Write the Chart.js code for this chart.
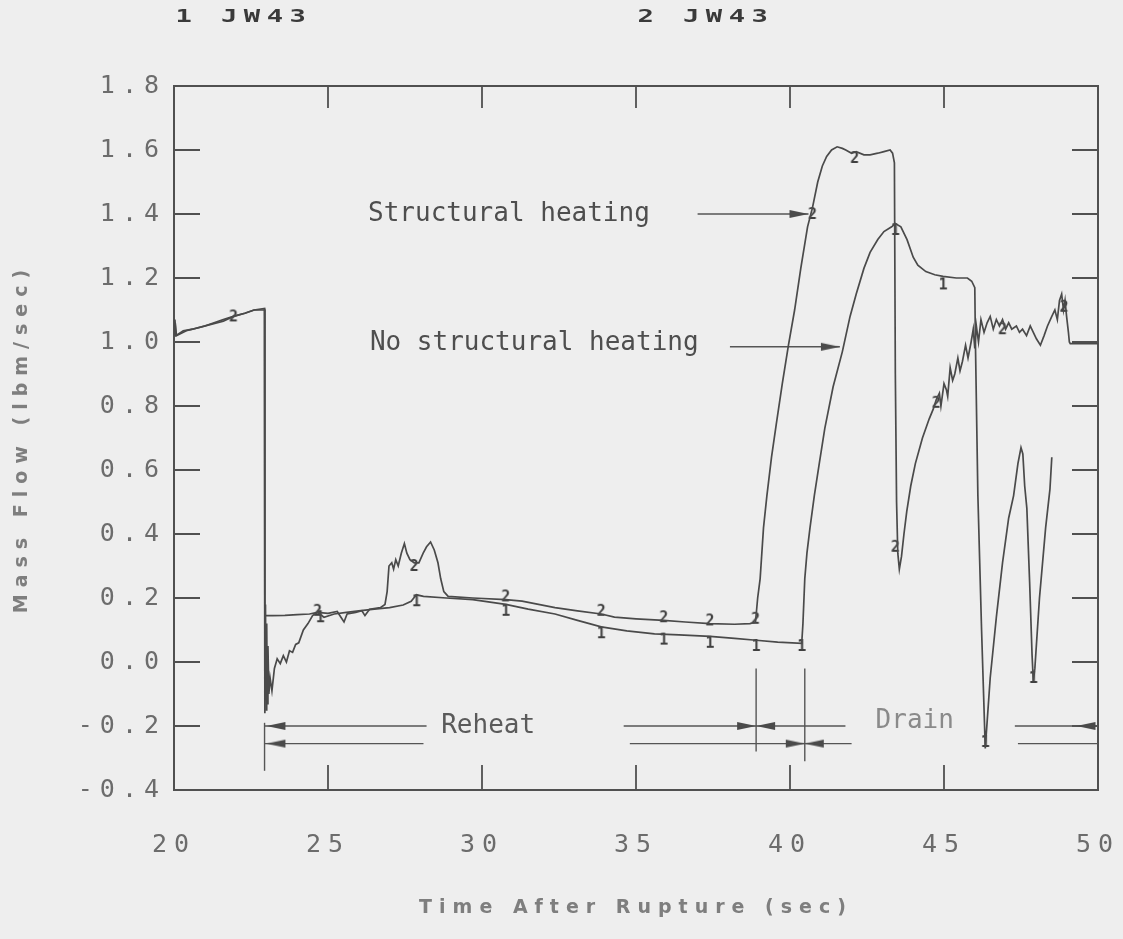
<!DOCTYPE html>
<html>
<head>
<meta charset="utf-8">
<title>Mass Flow - JW43</title>
<script src="https://cdn.jsdelivr.net/npm/chart.js@4.4.1/dist/chart.umd.min.js"></script>
<style>
  html, body { margin: 0; padding: 0; background: #eeeeee; }
  canvas { display: block; }
</style>
</head>
<body>
<canvas id="chart" width="1123" height="939"></canvas>
<script>
// ---- axes ----
const xTickLabels = ['20', '25', '30', '35', '40', '45', '50'];
const yTickLabels = ['-0.4', '-0.2', '0.0', '0.2', '0.4', '0.6', '0.8', '1.0', '1.2', '1.4', '1.6', '1.8'];

// ---- JW43 run 1 : no structural heating ----
const time1 = [
  20.00, 20.03, 20.06, 20.30, 20.60, 21.00, 21.30, 21.60, 21.93, 22.30, 22.60, 22.94,
  22.95, 22.97, 22.99, 23.01, 23.03, 23.05, 23.08, 23.12, 23.18, 23.26, 23.35, 23.45,
  23.55, 23.65, 23.75, 23.85, 23.95, 24.05, 24.20, 24.35, 24.50, 24.66, 24.87, 25.20,
  25.60, 26.00, 26.50, 27.00, 27.44, 27.70, 27.87, 28.10, 28.84, 29.70, 30.77, 31.50,
  32.37, 33.10, 33.87, 34.70, 35.60, 36.40, 37.40, 38.20, 38.90, 39.60, 40.38, 40.42,
  40.48, 40.55, 40.65, 40.79, 40.95, 41.13, 41.40, 41.70, 41.95, 42.15, 42.40, 42.60,
  42.85, 43.05, 43.30, 43.42, 43.60, 43.80, 44.00, 44.15, 44.41, 44.70, 44.97, 45.40,
  45.76, 45.90, 46.00, 46.02, 46.10, 46.22, 46.34, 46.50, 46.70, 46.90, 47.10, 47.26,
  47.40, 47.50, 47.56, 47.62, 47.69, 47.78, 47.86, 47.90, 47.95, 48.10, 48.30, 48.44,
  48.50
];
const flow1 = [
  1.03, 1.07, 1.02, 1.035, 1.04, 1.05, 1.06, 1.07, 1.08, 1.09, 1.10, 1.105,
  -0.12, 0.18, -0.15, 0.12, -0.13, 0.05, -0.10, -0.05, -0.09, -0.02, 0.01, -0.005,
  0.02, 0.00, 0.035, 0.03, 0.055, 0.06, 0.10, 0.12, 0.145, 0.155, 0.14, 0.15,
  0.155, 0.16, 0.165, 0.17, 0.178, 0.19, 0.21, 0.205, 0.20, 0.195, 0.18, 0.165,
  0.15, 0.13, 0.11, 0.097, 0.088, 0.085, 0.08, 0.074, 0.068, 0.062, 0.058, 0.12,
  0.26, 0.34, 0.42, 0.52, 0.62, 0.73, 0.86, 0.97, 1.08, 1.15, 1.23, 1.28,
  1.32, 1.345, 1.36, 1.37, 1.36, 1.32, 1.265, 1.24, 1.22, 1.21, 1.205, 1.20,
  1.20, 1.19, 1.17, 1.00, 0.52, 0.10, -0.27, -0.05, 0.14, 0.31, 0.45, 0.52,
  0.62, 0.67, 0.65, 0.55, 0.48, 0.25, 0.02, -0.06, -0.02, 0.20, 0.42, 0.54,
  0.64
];

// ---- JW43 run 2 : structural heating ----
const time2 = [
  20.00, 20.04, 20.08, 20.40, 20.80, 21.20, 21.60, 21.93, 22.30, 22.60, 22.94, 22.95,
  22.96, 23.20, 23.60, 24.00, 24.40, 24.66, 25.00, 25.30, 25.42, 25.52, 25.62, 25.90,
  26.10, 26.20, 26.35, 26.70, 26.85, 26.92, 26.98, 27.07, 27.13, 27.20, 27.28, 27.38,
  27.48, 27.56, 27.66, 27.80, 27.95, 28.09, 28.20, 28.33, 28.45, 28.57, 28.66, 28.76,
  28.90, 29.70, 30.77, 31.30, 32.37, 33.10, 33.87, 34.30, 35.00, 35.90, 36.60, 37.40,
  38.20, 38.70, 38.88, 38.95, 39.03, 39.14, 39.25, 39.40, 39.55, 39.75, 39.95, 40.15,
  40.35, 40.57, 40.73, 40.90, 41.05, 41.19, 41.35, 41.53, 41.70, 41.81, 42.00, 42.15,
  42.40, 42.60, 42.85, 43.05, 43.25, 43.33, 43.39, 43.42, 43.46, 43.50, 43.55, 43.62,
  43.70, 43.79, 43.92, 44.07, 44.30, 44.52, 44.65, 44.75, 44.85, 44.90, 45.00, 45.08,
  45.12, 45.20, 45.28, 45.35, 45.45, 45.52, 45.60, 45.70, 45.78, 45.88, 45.95, 46.00,
  46.05, 46.12, 46.20, 46.30, 46.40, 46.50, 46.60, 46.70, 46.80, 46.90, 47.00, 47.10,
  47.20, 47.35, 47.45, 47.55, 47.68, 47.80, 47.90, 48.00, 48.13, 48.25, 48.36, 48.50,
  48.60, 48.68, 48.75, 48.82, 48.88, 48.93, 48.98, 49.04, 49.07, 49.10, 50.00
];
const flow2 = [
  1.02, 1.06, 1.02, 1.035, 1.045, 1.055, 1.065, 1.08, 1.09, 1.10, 1.10, -0.16,
  0.145, 0.145, 0.146, 0.148, 0.15, 0.155, 0.152, 0.158, 0.14, 0.125, 0.15, 0.155,
  0.16, 0.145, 0.165, 0.17, 0.18, 0.22, 0.30, 0.31, 0.29, 0.32, 0.30, 0.34,
  0.37, 0.34, 0.32, 0.31, 0.31, 0.34, 0.36, 0.375, 0.35, 0.31, 0.26, 0.22,
  0.205, 0.20, 0.195, 0.19, 0.17, 0.16, 0.15, 0.14, 0.135, 0.13, 0.125, 0.12,
  0.118, 0.12, 0.125, 0.20, 0.26, 0.42, 0.52, 0.64, 0.74, 0.87, 0.99, 1.10,
  1.23, 1.36, 1.42, 1.50, 1.55, 1.58, 1.60, 1.61, 1.605, 1.60, 1.59, 1.595,
  1.585, 1.585, 1.59, 1.595, 1.60, 1.59, 1.56, 0.90, 0.50, 0.34, 0.29, 0.33,
  0.40, 0.47, 0.55, 0.62, 0.70, 0.76, 0.79, 0.82, 0.84, 0.80, 0.87, 0.85,
  0.83, 0.92, 0.88, 0.90, 0.95, 0.91, 0.94, 0.99, 0.95, 1.00, 1.04, 0.98,
  1.05, 1.00, 1.07, 1.03, 1.06, 1.08, 1.04, 1.07, 1.05, 1.07, 1.04, 1.06,
  1.04, 1.05, 1.03, 1.04, 1.02, 1.05, 1.03, 1.01, 0.99, 1.02, 1.05, 1.08,
  1.10, 1.07, 1.13, 1.15, 1.10, 1.13, 1.08, 1.03, 1.00, 0.995, 0.995
];

// plotter symbols along each trace
const sym1Time = [24.75, 27.87, 30.77, 33.87, 35.90, 37.40, 38.90, 40.38, 43.42, 44.97, 46.34, 47.90];
const sym1Flow = [0.14, 0.19, 0.16, 0.09, 0.07, 0.06, 0.05, 0.05, 1.35, 1.18, -0.25, -0.05];
const sym2Time = [21.93, 24.66, 27.80, 30.77, 33.87, 35.90, 37.40, 38.88, 40.73, 42.10, 43.42, 44.75, 46.90, 48.90];
const sym2Flow = [1.08, 0.16, 0.30, 0.205, 0.16, 0.14, 0.13, 0.135, 1.40, 1.575, 0.36, 0.81, 1.04, 1.11];

// reheat / drain brackets: [t start, t end, level]
const bracketLines = [
  [22.94, 28.2, -0.20], [34.6, 41.8, -0.20], [47.3, 50.0, -0.20],
  [22.94, 28.1, -0.255], [34.8, 42.0, -0.255], [47.4, 50.0, -0.255]
];
// vertical bracket marks: [t, low, high]
const bracketMarks = [[22.94, -0.34, -0.19], [38.9, -0.28, -0.02], [40.48, -0.31, -0.02]];
// label leaders: [t start, t end, level]
const leaderLines = [[37.0, 40.6, 1.40], [38.05, 41.62, 0.985]];
// arrow tips: [t, level]
const arrowTipsRight = [[38.9, -0.20], [40.48, -0.255], [40.6, 1.40], [41.62, 0.985]];
const arrowTipsLeft = [[23.0, -0.20], [23.0, -0.255], [38.9, -0.20], [40.48, -0.255], [49.3, -0.20]];

const notes = [
  { text: 'Structural heating', t: 26.3, v: 1.40, align: 'left', color: '#4e4e4e' },
  { text: 'No structural heating', t: 26.36, v: 0.997, align: 'left', color: '#4e4e4e' },
  { text: 'Reheat', t: 30.2, v: -0.20, align: 'center', color: '#5a5a5a' },
  { text: 'Drain', t: 44.05, v: -0.185, align: 'center', color: '#8a8a8a' }
];
const runTitles = [{ text: '1 JW43', t: 20.05 }, { text: '2 JW43', t: 35.05 }];

const INK = '#4a4a4a';
const pts = (ts, vs) => ts.map((t, i) => ({ x: t, y: vs[i] }));

function symbolCanvas(ch) {
  const c = document.createElement('canvas');
  c.width = 14; c.height = 18;
  const g = c.getContext('2d');
  g.fillStyle = '#3f3f3f';
  g.font = 'bold 15px "DejaVu Sans Mono"';
  g.textAlign = 'center';
  g.textBaseline = 'middle';
  g.fillText(ch, 7, 10);
  return c;
}

// tip of the arrow sits at the canvas centre
function arrowCanvas(dir) {
  const c = document.createElement('canvas');
  c.width = 40; c.height = 10;
  const g = c.getContext('2d');
  g.fillStyle = INK;
  g.beginPath();
  if (dir > 0) { g.moveTo(20, 5); g.lineTo(1, 1); g.lineTo(1, 9); }
  else { g.moveTo(20, 5); g.lineTo(39, 1); g.lineTo(39, 9); }
  g.closePath();
  g.fill();
  return c;
}

const datasets = [
  { data: pts(time1, flow1), borderColor: INK, borderWidth: 1.7, pointRadius: 0, tension: 0 },
  { data: pts(time2, flow2), borderColor: INK, borderWidth: 1.7, pointRadius: 0, tension: 0 },
  { data: pts(sym1Time, sym1Flow), showLine: false, pointStyle: symbolCanvas('1'), pointRadius: 6 },
  { data: pts(sym2Time, sym2Flow), showLine: false, pointStyle: symbolCanvas('2'), pointRadius: 6 },
  { data: arrowTipsRight.map(a => ({ x: a[0], y: a[1] })), showLine: false, pointStyle: arrowCanvas(1), pointRadius: 6 },
  { data: arrowTipsLeft.map(a => ({ x: a[0], y: a[1] })), showLine: false, pointStyle: arrowCanvas(-1), pointRadius: 6 }
];
bracketLines.concat(leaderLines).forEach(s => {
  datasets.push({ data: [{ x: s[0], y: s[2] }, { x: s[1], y: s[2] }],
    borderColor: '#555', borderWidth: 1.4, pointRadius: 0 });
});
bracketMarks.forEach(s => {
  datasets.push({ data: [{ x: s[0], y: s[1] }, { x: s[0], y: s[2] }],
    borderColor: '#555', borderWidth: 1.4, pointRadius: 0 });
});

// frame, inward ticks and the plotter lettering
const plotterFrame = {
  id: 'plotterFrame',
  beforeDraw(chart) {
    const ctx = chart.ctx;
    ctx.save();
    ctx.fillStyle = '#eeeeee';
    ctx.fillRect(0, 0, chart.width, chart.height);
    ctx.restore();
    ctx.letterSpacing = '7px';   // wide spacing for tick labels and axis titles
  },
  beforeDatasetsDraw(chart) {
    const { ctx, chartArea: a, scales: { x, y } } = chart;
    ctx.letterSpacing = '0px';
    ctx.save();
    ctx.strokeStyle = '#505050';
    ctx.lineWidth = 2;
    ctx.strokeRect(a.left, a.top, a.right - a.left, a.bottom - a.top);
    ctx.lineWidth = 1.8;
    ctx.beginPath();
    x.ticks.slice(1, -1).forEach(tk => {
      const px = x.getPixelForValue(tk.value);
      ctx.moveTo(px, a.bottom); ctx.lineTo(px, a.bottom - 25);
      ctx.moveTo(px, a.top); ctx.lineTo(px, a.top + 22);
    });
    y.ticks.slice(1, -1).forEach(tk => {
      const py = y.getPixelForValue(tk.value);
      ctx.moveTo(a.left, py); ctx.lineTo(a.left + 26, py);
      ctx.moveTo(a.right, py); ctx.lineTo(a.right - 26, py);
    });
    ctx.stroke();
    ctx.restore();
  },
  afterDraw(chart) {
    const { ctx, scales: { x, y } } = chart;
    ctx.save();
    ctx.letterSpacing = '0px';
    ctx.textBaseline = 'middle';
    ctx.font = '26px "DejaVu Sans Mono"';
    notes.forEach(n => {
      ctx.fillStyle = n.color;
      ctx.textAlign = n.align;
      ctx.fillText(n.text, x.getPixelForValue(n.t), y.getPixelForValue(n.v));
    });
    ctx.fillStyle = '#3a3a3a';
    ctx.font = 'bold 17px "DejaVu Sans Mono"';
    ctx.textAlign = 'left';
    ctx.letterSpacing = '4px';
    runTitles.forEach(r => {
      ctx.save();
      ctx.translate(x.getPixelForValue(r.t), 18);
      ctx.scale(1.6, 1);
      ctx.fillText(r.text, 0, 0);
      ctx.restore();
    });
    ctx.restore();
  }
};

const tickFont = { family: '"DejaVu Sans Mono"', size: 25 };
const titleFont = { family: '"DejaVu Sans"', size: 19, weight: 'bold' };

// keep the plot box fixed: drop the label overhang padding Chart.js adds
function fixBox(s, key, size) {
  s[key] = size;
  s.paddingLeft = 0; s.paddingRight = 0; s.paddingTop = 0; s.paddingBottom = 0;
}

new Chart(document.getElementById('chart'), {
  type: 'line',
  data: { datasets },
  options: {
    responsive: false,
    animation: false,
    events: [],
    layout: { padding: { top: 86, right: 25, bottom: 0, left: 0 } },
    plugins: { legend: { display: false }, tooltip: { enabled: false } },
    scales: {
      x: {
        type: 'linear', min: 20, max: 50,
        afterBuildTicks: s => { s.ticks = xTickLabels.map(l => ({ value: Number(l) })); },
        afterFit: s => fixBox(s, 'height', 149),
        grid: { display: false, drawTicks: false },
        border: { display: false },
        ticks: { callback: (v, i) => xTickLabels[i], font: tickFont, color: '#6c6c6c', padding: 40, maxRotation: 0 },
        title: { display: true, text: 'Time After Rupture (sec)', font: titleFont, color: '#7e7e7e', padding: { top: 0, bottom: 20 } }
      },
      y: {
        type: 'linear', min: -0.4, max: 1.8,
        afterBuildTicks: s => { s.ticks = yTickLabels.map(l => ({ value: Number(l) })); },
        afterFit: s => fixBox(s, 'width', 174),
        grid: { display: false, drawTicks: false },
        border: { display: false },
        ticks: { callback: (v, i) => yTickLabels[i], font: tickFont, color: '#6c6c6c', padding: 8 },
        title: { display: true, text: 'Mass Flow (lbm/sec)', font: titleFont, color: '#7e7e7e', padding: { top: 11, bottom: 0 } }
      }
    }
  },
  plugins: [plotterFrame]
});
</script>
</body>
</html>
